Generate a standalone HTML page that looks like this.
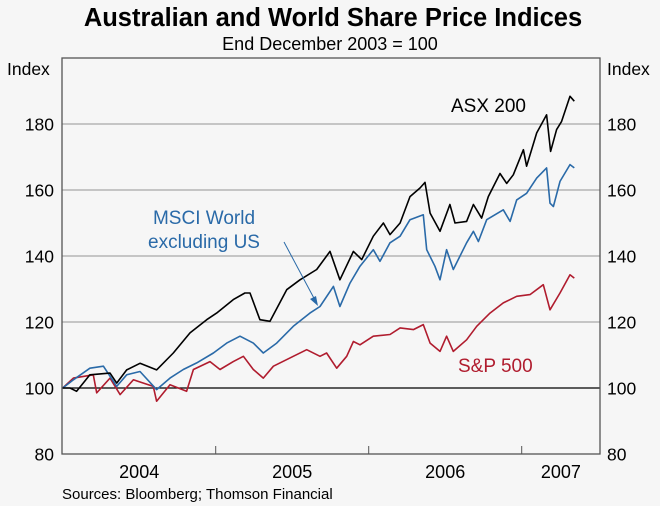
<!DOCTYPE html>
<html><head><meta charset="utf-8"><style>
body{margin:0;background:#f6f6f6;}
svg{display:block;font-family:"Liberation Sans",sans-serif;}
</style></head><body>
<svg width="660" height="506" viewBox="0 0 660 506">
<rect width="660" height="506" fill="#f6f6f6"/>
<text x="333" y="26" text-anchor="middle" font-size="25.5" font-weight="bold" fill="#000">Australian and World Share Price Indices</text>
<text x="330" y="50" text-anchor="middle" font-size="18" fill="#000">End December 2003 = 100</text>
<text x="7" y="75" font-size="17.5">Index</text>
<text x="607" y="75" font-size="17.5">Index</text>
<g id="grid"></g>
<g id="series"></g>
<rect x="62" y="58" width="538" height="396" fill="none" stroke="#555" stroke-width="1.3"/>
<g id="axes"></g>
<text x="451" y="112" font-size="19" fill="#000">ASX 200</text>
<text x="204" y="224" text-anchor="middle" font-size="19" fill="#2a6aa8">MSCI World</text>
<text x="204" y="248" text-anchor="middle" font-size="19" fill="#2a6aa8">excluding US</text>
<line x1="284" y1="242" x2="316" y2="302" stroke="#2a6aa8" stroke-width="1"/>
<polygon points="318,306 310,299 316,296" fill="#2a6aa8"/>
<text x="458" y="372" font-size="19" fill="#b01c2e">S&amp;P 500</text>
<text x="62" y="499" font-size="15">Sources: Bloomberg; Thomson Financial</text>
</svg>
<script>
const yTicks=[80,100,120,140,160,180];
const yearLabels=["2004","2005","2006","2007"];
const asxT=[0,0.048,0.091,0.178,0.309,0.353,0.418,0.505,0.614,0.723,0.832,0.941,1.006,1.115,1.191,1.224,1.289,1.355,1.464,1.551,1.66,1.747,1.812,1.9,1.954,2.03,2.096,2.139,2.205,2.27,2.335,2.368,2.401,2.466,2.531,2.564,2.64,2.684,2.738,2.782,2.858,2.902,2.945,3.011,3.032,3.098,3.163,3.189,3.228,3.261,3.316,3.344];
const asxV=[100,100,99,104,104.5,101.5,105.5,107.5,105.5,110.6,116.7,120.7,122.7,126.8,128.8,128.8,120.7,120.2,129.8,132.8,135.9,141.4,132.8,141.4,138.9,146,150,146.5,150,158,160.6,162.3,153,147.5,155.6,150,150.5,155.6,151.5,158,165,162,164.6,172.2,167.2,177.3,182.8,171.7,178.3,180.8,188.4,186.9];
const msciT=[0,0.07,0.178,0.266,0.353,0.418,0.505,0.614,0.701,0.788,0.876,0.985,1.072,1.159,1.246,1.311,1.399,1.507,1.616,1.682,1.769,1.812,1.878,1.943,2.03,2.074,2.139,2.205,2.27,2.357,2.379,2.433,2.466,2.509,2.553,2.64,2.684,2.717,2.771,2.88,2.924,2.967,3.032,3.098,3.163,3.185,3.207,3.25,3.316,3.344];
const msciV=[100,102.5,106,106.6,100.5,104,105,99.5,103,105.6,107.6,110.6,113.6,115.7,113.6,110.6,113.6,118.7,122.7,124.7,130.8,124.7,131.8,136.9,141.9,138.4,144,146,151,152.5,141.9,136.9,132.8,141.9,135.9,144,147.5,144.4,151,154,150.5,157,159,163.6,166.7,156,155,162.6,167.7,166.7];
const spT=[0,0.07,0.2,0.222,0.309,0.375,0.462,0.592,0.614,0.701,0.81,0.854,0.963,1.028,1.115,1.181,1.246,1.311,1.377,1.507,1.595,1.682,1.725,1.791,1.856,1.9,1.943,2.03,2.139,2.205,2.292,2.357,2.401,2.466,2.509,2.553,2.64,2.706,2.793,2.88,2.967,3.054,3.141,3.185,3.25,3.316,3.344];
const spV=[100,103,104,98.5,103,98,102.5,100.5,96,101,99,105.6,108,105.6,108,109.6,105.6,103,106.6,109.6,111.6,109.6,110.6,106,109.6,114.1,113.1,115.7,116.2,118.2,117.7,119.2,113.6,111.1,115.7,111.1,114.6,118.7,122.7,125.8,127.8,128.3,131.3,123.7,128.8,134.3,133.3];
const NS="http://www.w3.org/2000/svg";
const X0=62.7,YW=153,YB=454,PU=3.3;
function xs(t){return X0+t*YW;}
function ys(v){return YB-(v-80)*PU;}
const grid=document.getElementById('grid'),axes=document.getElementById('axes'),ser=document.getElementById('series');
yTicks.forEach(v=>{
  if(v>80){
    const l=document.createElementNS(NS,'line');
    l.setAttribute('x1',62);l.setAttribute('x2',600);l.setAttribute('y1',ys(v));l.setAttribute('y2',ys(v));
    l.setAttribute('stroke',v===100?'#000':'#a8a8a8');l.setAttribute('stroke-width',1.2);
    
    
    grid.appendChild(l);
  }
  [[54,'end','left'],[607,'start','right']].forEach(([x,a,s])=>{
    const t=document.createElementNS(NS,'text');
    t.setAttribute('x',x);t.setAttribute('y',ys(v)+6.5);t.setAttribute('text-anchor',a);t.setAttribute('font-size','17.5');
    t.textContent=v;
    
    
    axes.appendChild(t);
  });
});
yearLabels.forEach((y,i)=>{
  if(i>0){
    const l=document.createElementNS(NS,'line');
    l.setAttribute('x1',xs(i));l.setAttribute('x2',xs(i));l.setAttribute('y1',446);l.setAttribute('y2',454);
    l.setAttribute('stroke','#555');
    
    
    axes.appendChild(l);
  }
  const t=document.createElementNS(NS,'text');
  const cx=i<3?xs(i+0.5):(xs(3)+600)/2;
  t.setAttribute('x',cx);t.setAttribute('y',478);t.setAttribute('text-anchor','middle');t.setAttribute('font-size','18');
  t.textContent=y;
  
  
  axes.appendChild(t);
});
function line(T,V,c,n){
  const p=document.createElementNS(NS,'polyline');
  p.setAttribute('points',T.map((t,i)=>xs(t).toFixed(1)+','+ys(V[i]).toFixed(1)).join(' '));
  p.setAttribute('fill','none');p.setAttribute('stroke',c);p.setAttribute('stroke-width','1.6');p.setAttribute('stroke-linejoin','round');
  
  
  ser.appendChild(p);
}
line(spT,spV,'#b01c2e','sp500-line');
line(msciT,msciV,'#2a6aa8','msci-world-ex-us-line');
line(asxT,asxV,'#000','asx-200-line');
</script>
</body></html>
